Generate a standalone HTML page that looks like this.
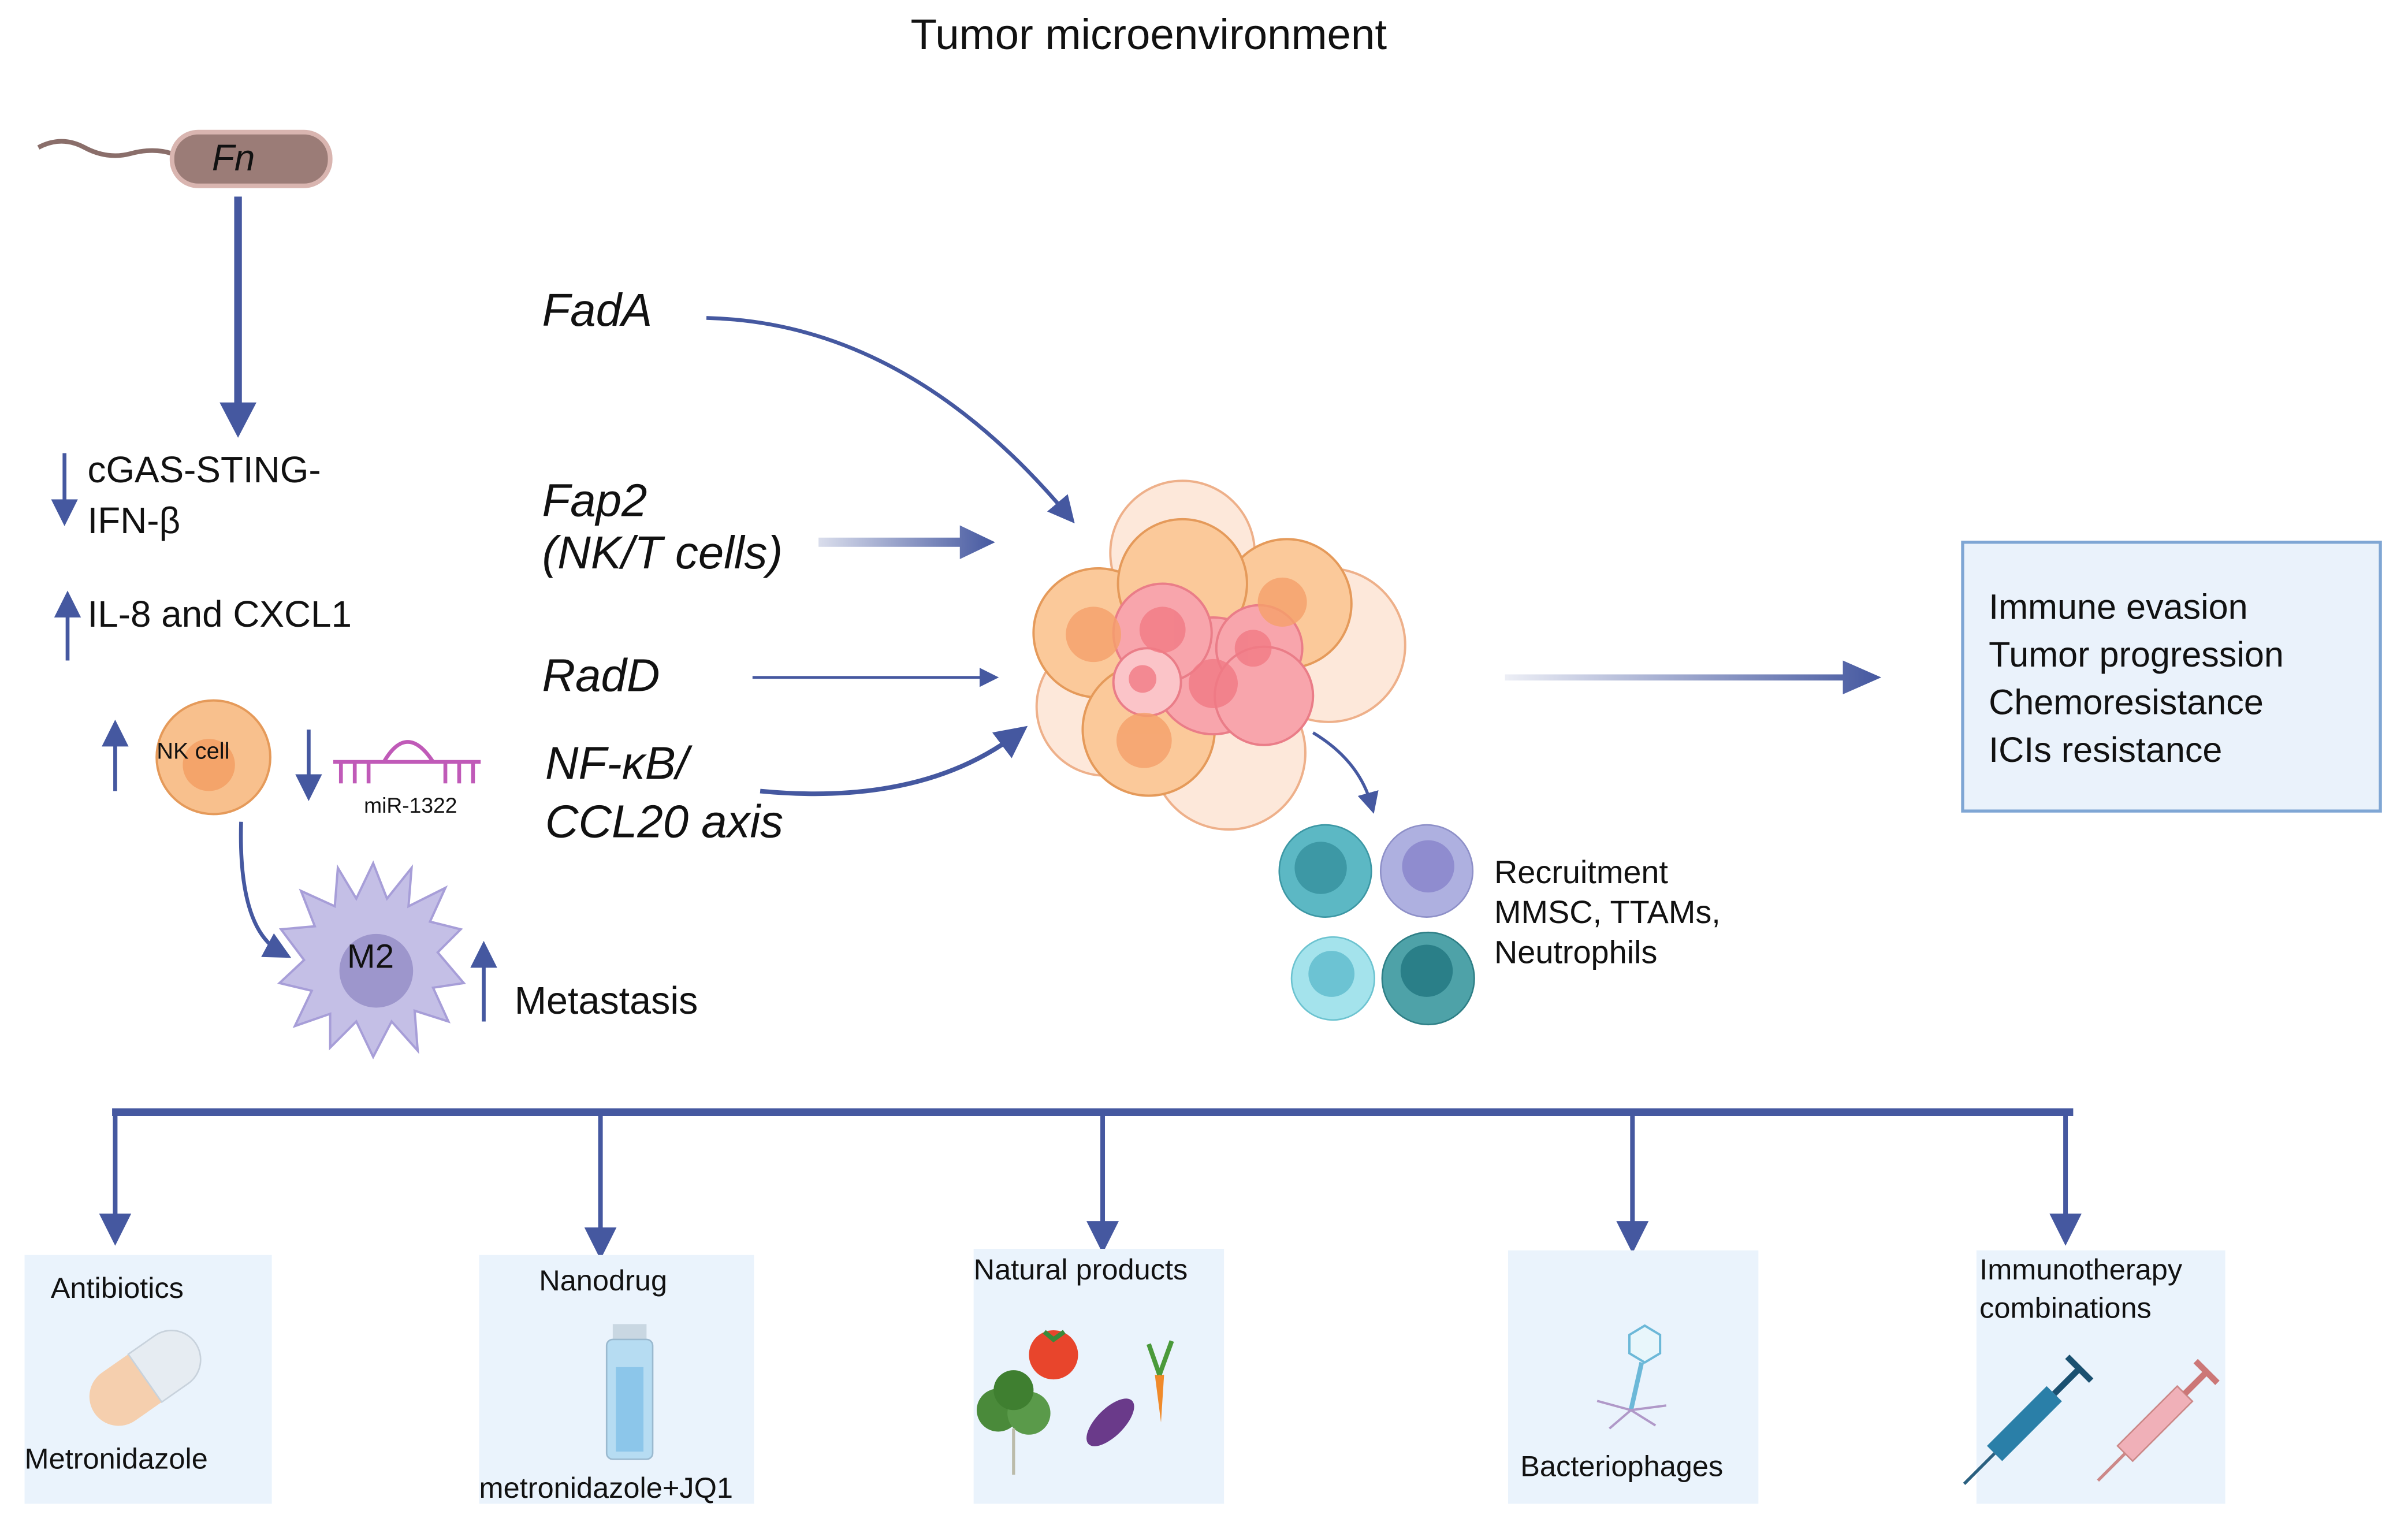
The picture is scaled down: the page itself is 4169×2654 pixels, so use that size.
<!DOCTYPE html>
<html><head><meta charset="utf-8">
<style>
html,body{margin:0;padding:0;background:#fff;}
svg{display:block;}
text{font-family:"Liberation Sans",sans-serif;fill:#111;}
</style></head>
<body>
<svg width="4169" height="2654" viewBox="0 0 1568 998" preserveAspectRatio="none" xmlns="http://www.w3.org/2000/svg">
<defs>
<marker id="ahs" markerWidth="7" markerHeight="7" refX="4" refY="3.5" orient="auto" markerUnits="strokeWidth"><path d="M0,0 L7,3.5 L0,7 z" fill="#4558a0"/></marker>
<linearGradient id="g1" x1="0" x2="1"><stop offset="0" stop-color="#4558a0" stop-opacity="0.1"/><stop offset="1" stop-color="#4558a0"/></linearGradient>
<linearGradient id="g2" x1="0" x2="1"><stop offset="0" stop-color="#4558a0" stop-opacity="0.2"/><stop offset="1" stop-color="#4558a0"/></linearGradient>
</defs>

<text x="748" y="32" font-size="28" text-anchor="middle">Tumor microenvironment</text>

<path d="M25,96 Q40,88 55,96 T85,100 T112,100" stroke="#8a6e6a" stroke-width="3" fill="none"/>
<rect x="112" y="86" width="103" height="35" rx="17" fill="#9b7c77" stroke="#d9b5b0" stroke-width="3"/>
<text x="138" y="111" font-size="24" font-style="italic">Fn</text>
<line x1="155" y1="128" x2="155" y2="270" stroke="#4558a0" stroke-width="5"/>
<path d="M143,262 L167,262 L155,285 z" fill="#4558a0"/>

<text x="57" y="314" font-size="24">cGAS-STING-</text>
<text x="57" y="347" font-size="24">IFN-β</text>
<line x1="42" y1="295" x2="42" y2="335" stroke="#4558a0" stroke-width="2.5" marker-end="url(#ahs)"/>
<line x1="44" y1="430" x2="44" y2="392" stroke="#4558a0" stroke-width="2.5" marker-end="url(#ahs)"/>
<text x="57" y="408" font-size="24">IL-8 and CXCL1</text>

<line x1="75" y1="515" x2="75" y2="476" stroke="#4558a0" stroke-width="2.5" marker-end="url(#ahs)"/>
<circle cx="139" cy="493" r="37" fill="#f8c08d" stroke="#e59a5a" stroke-width="1.5"/>
<circle cx="136" cy="498" r="17" fill="#f4a46a"/>
<text x="102" y="494" font-size="15">NK cell</text>
<line x1="201" y1="475" x2="201" y2="514" stroke="#4558a0" stroke-width="2.5" marker-end="url(#ahs)"/>
<g stroke="#c05ab8" stroke-width="2.5" fill="none">
<line x1="217" y1="496" x2="313" y2="496"/>
<path d="M250,496 Q265,470 282,496"/>
<line x1="222" y1="496" x2="222" y2="510"/><line x1="231" y1="496" x2="231" y2="510"/><line x1="240" y1="496" x2="240" y2="510"/>
<line x1="290" y1="496" x2="290" y2="510"/><line x1="299" y1="496" x2="299" y2="510"/><line x1="308" y1="496" x2="308" y2="510"/>
</g>
<text x="237" y="529" font-size="14">miR-1322</text>
<path d="M157,535 Q155,605 183,620" stroke="#4558a0" stroke-width="2.5" fill="none" marker-end="url(#ahs)"/>

<!-- M2 -->
<polygon points="243,562 252,585 268,565 266,590 290,578 280,600 300,605 285,620 302,640 282,643 292,665 270,658 272,684 255,665 243,688 232,665 215,682 215,660 192,668 203,645 182,640 198,625 183,605 205,603 196,580 218,590 220,565 232,585" fill="#c4bfe6" stroke="#a79ed8" stroke-width="1.5"/>
<circle cx="245" cy="632" r="24" fill="#9d96cc"/>
<text x="226" y="630" font-size="22">M2</text>
<line x1="315" y1="665" x2="315" y2="620" stroke="#4558a0" stroke-width="2.5" marker-end="url(#ahs)"/>
<text x="335" y="660" font-size="25">Metastasis</text>

<g font-size="30" font-style="italic">
<text x="353" y="212">FadA</text>
<text x="353" y="336">Fap2</text>
<text x="353" y="370">(NK/T cells)</text>
<text x="353" y="450">RadD</text>
<text x="355" y="507">NF-κB/</text>
<text x="355" y="545">CCL20 axis</text>
</g>
<path d="M460,207 Q590,210 695,335" stroke="#4558a0" stroke-width="2.5" fill="none" marker-end="url(#ahs)"/>
<path d="M533,350 L625,350 L625,342 L648,353 L625,364 L625,356 L533,356 z" fill="url(#g2)"/>
<line x1="490" y1="441" x2="645" y2="441" stroke="#4558a0" stroke-width="1.8" marker-end="url(#ahs)"/>
<path d="M495,515 Q600,525 662,478" stroke="#4558a0" stroke-width="3" fill="none" marker-end="url(#ahs)"/>

<g stroke="#eeb08a" stroke-width="1.5">
<circle cx="770" cy="360" r="47" fill="#fde8da"/>
<circle cx="865" cy="420" r="50" fill="#fde8da"/>
<circle cx="800" cy="490" r="50" fill="#fde8da"/>
<circle cx="720" cy="460" r="45" fill="#fde8da"/>
<circle cx="715" cy="412" r="42" fill="#fbc99a" stroke="#e59a5a"/>
<circle cx="838" cy="393" r="42" fill="#fbc99a" stroke="#e59a5a"/>
<circle cx="770" cy="380" r="42" fill="#fbc99a" stroke="#e59a5a"/>
<circle cx="748" cy="475" r="43" fill="#fbc99a" stroke="#e59a5a"/>
<circle cx="790" cy="440" r="38" fill="#f8a5ac" stroke="#ea7d88"/>
<circle cx="757" cy="412" r="32" fill="#f8a5ac" stroke="#ea7d88"/>
<circle cx="820" cy="422" r="28" fill="#f8a5ac" stroke="#ea7d88"/>
<circle cx="823" cy="453" r="32" fill="#f8a5ac" stroke="#ea7d88"/>
<circle cx="747" cy="444" r="22" fill="#fbc4c8" stroke="#ea7d88"/>
</g>
<g fill="#f5a06a" opacity="0.8"><circle cx="712" cy="413" r="18"/><circle cx="745" cy="482" r="18"/><circle cx="835" cy="392" r="16"/></g>
<g fill="#f17a85" opacity="0.8"><circle cx="790" cy="445" r="16"/><circle cx="757" cy="410" r="15"/><circle cx="816" cy="422" r="12"/><circle cx="744" cy="442" r="9"/></g>
<path d="M855,477 Q885,495 893,524" stroke="#4558a0" stroke-width="2" fill="none" marker-end="url(#ahs)"/>

<circle cx="863" cy="567" r="30" fill="#5cb8c4" stroke="#3c97a4"/><circle cx="860" cy="565" r="17" fill="#3d98a5"/>
<circle cx="929" cy="567" r="30" fill="#aeb0e0" stroke="#8e90c8"/><circle cx="930" cy="564" r="17" fill="#8f8ccf"/>
<circle cx="868" cy="637" r="27" fill="#a4e3ec" stroke="#6cc3d0"/><circle cx="867" cy="634" r="15" fill="#6cc3d3"/>
<circle cx="930" cy="637" r="30" fill="#4ea2a8" stroke="#2e7f86"/><circle cx="929" cy="632" r="17" fill="#2a7f88"/>
<g font-size="21"><text x="973" y="575">Recruitment</text><text x="973" y="601">MMSC, TTAMs,</text><text x="973" y="627">Neutrophils</text></g>

<path d="M980,439 L1200,439 L1200,430 L1225,441 L1200,452 L1200,443 L980,443 z" fill="url(#g1)"/>
<rect x="1278" y="353" width="272" height="175" fill="#eaf2fb" stroke="#7fa6d4" stroke-width="2"/>
<g font-size="23"><text x="1295" y="403">Immune evasion</text><text x="1295" y="434">Tumor progression</text><text x="1295" y="465">Chemoresistance</text><text x="1295" y="496">ICIs resistance</text></g>

<line x1="73" y1="724" x2="1350" y2="724" stroke="#4558a0" stroke-width="5"/>
<g stroke="#4558a0" stroke-width="3" marker-end="url(#ahs)">
<line x1="75" y1="724" x2="75" y2="802"/>
<line x1="391" y1="724" x2="391" y2="811"/>
<line x1="718" y1="724" x2="718" y2="807"/>
<line x1="1063" y1="724" x2="1063" y2="807"/>
<line x1="1345" y1="724" x2="1345" y2="802"/>
</g>
<g fill="#eaf3fc">
<rect x="16" y="817" width="161" height="162"/>
<rect x="312" y="817" width="179" height="162"/>
<rect x="634" y="813" width="163" height="166"/>
<rect x="982" y="814" width="163" height="165"/>
<rect x="1287" y="814" width="162" height="165"/>
</g>
<g font-size="19">
<text x="33" y="845">Antibiotics</text><text x="16" y="956">Metronidazole</text>
<text x="351" y="840">Nanodrug</text><text x="312" y="975">metronidazole+JQ1</text>
<text x="634" y="833">Natural products</text>
<text x="990" y="961">Bacteriophages</text>
<text x="1289" y="833">Immunotherapy</text><text x="1289" y="858">combinations</text>
</g>
<g transform="rotate(-35 95 898)">
<rect x="55" y="878" width="80" height="38" rx="19" fill="#f5cfae"/>
<path d="M95,878 L116,878 A19,19 0 0 1 116,916 L95,916 z" fill="#e6ecf2" stroke="#c8d2dc"/>
</g>
<rect x="399" y="862" width="22" height="10" fill="#c9d7e2"/>
<rect x="395" y="872" width="30" height="78" rx="4" fill="#b6dcf2" stroke="#9ab9cf"/>
<rect x="401" y="890" width="18" height="55" fill="#8cc6ea"/>
<circle cx="686" cy="882" r="16" fill="#e8452c"/><path d="M680,867 L686,872 L693,867" stroke="#3a8a3a" stroke-width="3" fill="none"/>
<ellipse cx="723" cy="926" rx="9" ry="20" transform="rotate(45 723 926)" fill="#6a3a8a"/>
<path d="M752,895 L758,895 L756,926 z" fill="#f08a2a"/><path d="M755,895 L748,875 M755,895 L763,873" stroke="#4a9a3a" stroke-width="3"/>
<circle cx="650" cy="918" r="14" fill="#4a8a3a"/><circle cx="670" cy="920" r="14" fill="#5a9a4a"/><circle cx="660" cy="905" r="13" fill="#3f7f30"/>
<line x1="660" y1="930" x2="660" y2="960" stroke="#bba" stroke-width="2"/>
<polygon points="1071,863 1081,869 1081,881 1071,887 1061,881 1061,869" fill="#e8f6fb" stroke="#6cb8d8" stroke-width="1.5"/>
<line x1="1069" y1="887" x2="1062" y2="918" stroke="#6cb8d8" stroke-width="3"/>
<path d="M1062,918 L1040,912 M1062,918 L1048,930 M1062,918 L1078,928 M1062,918 L1085,915" stroke="#b098c8" stroke-width="1.5"/>
<g transform="rotate(-45 1320 925)"><rect x="1290" y="918" width="55" height="14" fill="#2a7fa8"/><line x1="1262" y1="925" x2="1290" y2="925" stroke="#2a6080" stroke-width="2"/><line x1="1345" y1="925" x2="1368" y2="925" stroke="#1a5070" stroke-width="4"/><line x1="1368" y1="914" x2="1368" y2="936" stroke="#1a5070" stroke-width="4"/></g>
<g transform="rotate(-45 1405 925)"><rect x="1375" y="918" width="55" height="14" fill="#f0b0b8" stroke="#c88"/><line x1="1350" y1="925" x2="1375" y2="925" stroke="#c88" stroke-width="2"/><line x1="1430" y1="925" x2="1450" y2="925" stroke="#c77" stroke-width="4"/><line x1="1450" y1="915" x2="1450" y2="935" stroke="#c77" stroke-width="4"/></g>
</svg>
</body></html>
